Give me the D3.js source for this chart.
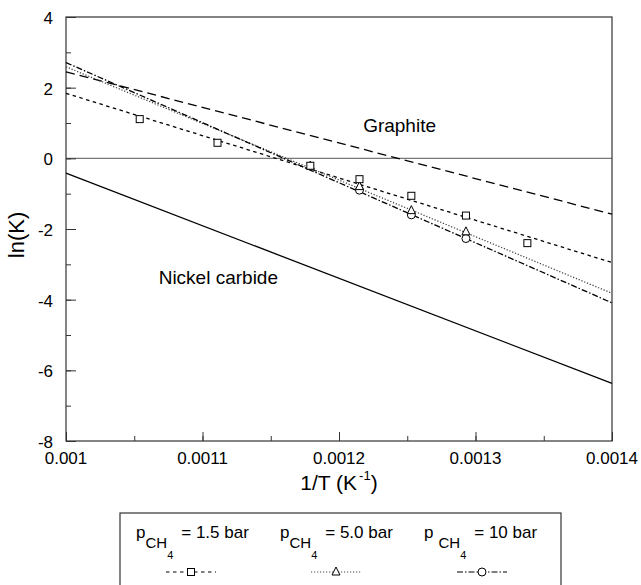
<!DOCTYPE html>
<html>
<head>
<meta charset="utf-8">
<script src="https://cdn.jsdelivr.net/npm/d3@7/dist/d3.min.js"></script>
<style>
body { margin: 0; background: #fff; }
text { font-family: "Liberation Sans", Arial, sans-serif; fill: #000; }
.frame { fill: none; stroke: #333; stroke-width: 1.2px; }
.fit { fill: none; stroke: #000; stroke-width: 1.3px; }
.mark { fill: #fff; stroke: #000; stroke-width: 1px; }
</style>
</head>
<body>
<script>
// reference lines and fits: value at x = 0.001 and x = 0.0014
var xEnds = [0.001, 0.0014];
var graphiteLn = [2.45, -1.58];
var nickelLn = [-0.42, -6.37];
var fit15 = [1.84, -2.95];
var fit50 = [2.59, -3.82];
var fit10 = [2.71, -4.09];

// measured points
var p15x = [0.001054, 0.001111, 0.001179, 0.001215, 0.001253, 0.001293, 0.001338];
var p15y = [1.11, 0.44, -0.21, -0.59, -1.06, -1.62, -2.40];
var p50x = [0.001179, 0.001215, 0.001253, 0.001293];
var p50y = [-0.22, -0.80, -1.48, -2.08];
var p10x = [0.001215, 0.001253, 0.001293];
var p10y = [-0.90, -1.60, -2.27];

var xTicks = [0.001, 0.0011, 0.0012, 0.0013, 0.0014];
var xTickLabels = ["0.001", "0.0011", "0.0012", "0.0013", "0.0014"];
var yTicks = [-8, -6, -4, -2, 0, 2, 4];

var width = 641, height = 585;
var svg = d3.select("body").append("svg")
    .attr("width", width)
    .attr("height", height);

var x = d3.scaleLinear().domain([0.001, 0.0014]).range([66, 612]);
var y = d3.scaleLinear().domain([-8, 4]).range([441, 17]);

// zero line
svg.append("line")
    .attr("x1", x(0.001)).attr("x2", x(0.0014))
    .attr("y1", y(0)).attr("y2", y(0))
    .style("stroke", "#777").style("stroke-width", "1.2px");

// axes: ticks pointing inward
var xMinor = d3.range(0, 9).map(function(i) { return 0.001 + i * 0.00005; });
var yMinor = d3.range(-8, 5);

svg.append("g")
    .attr("transform", "translate(0," + y(-8) + ")")
    .call(d3.axisTop(x).tickValues(xMinor).tickSize(5).tickFormat(""))
    .call(function(g) { g.select(".domain").remove(); });
svg.append("g")
    .attr("transform", "translate(0," + y(-8) + ")")
    .call(d3.axisTop(x).tickValues(xTicks).tickSize(9).tickFormat(""))
    .call(function(g) { g.select(".domain").remove(); });
svg.append("g")
    .attr("transform", "translate(" + x(0.001) + ",0)")
    .call(d3.axisRight(y).tickValues(yMinor).tickSize(5).tickFormat(""))
    .call(function(g) { g.select(".domain").remove(); });
svg.append("g")
    .attr("transform", "translate(" + x(0.001) + ",0)")
    .call(d3.axisRight(y).tickValues(yTicks).tickSize(10).tickFormat(""))
    .call(function(g) { g.select(".domain").remove(); });
svg.selectAll(".tick line").style("stroke", "#333");

svg.selectAll(".xlab").data(xTicks).enter().append("text")
    .attr("x", function(d) { return x(d); })
    .attr("y", y(-8) + 23)
    .attr("text-anchor", "middle")
    .style("font-size", "17px")
    .text(function(d, i) { return xTickLabels[i]; });

svg.selectAll(".ylab").data(yTicks).enter().append("text")
    .attr("x", 53)
    .attr("y", function(d) { return y(d) + 7; })
    .attr("text-anchor", "end")
    .style("font-size", "17px")
    .text(function(d) { return d; });

svg.append("rect").attr("class", "frame")
    .attr("x", x(0.001)).attr("y", y(4))
    .attr("width", x(0.0014) - x(0.001))
    .attr("height", y(-8) - y(4));

// axis titles
var xt = svg.append("text")
    .attr("x", (x(0.001) + x(0.0014)) / 2)
    .attr("y", 490)
    .attr("text-anchor", "middle")
    .style("font-size", "21px");
xt.append("tspan").text("1/T (K");
xt.append("tspan").attr("dy", -10).attr("dx", 2).style("font-size", "13px").text("-1");
xt.append("tspan").attr("dy", 10).text(")");

svg.append("text")
    .attr("transform", "translate(24,235) rotate(-90)")
    .attr("text-anchor", "middle")
    .style("font-size", "22px")
    .text("ln(K)");

// lines
var line = d3.line()
    .x(function(d) { return x(d[0]); })
    .y(function(d) { return y(d[1]); });

function ends(vals) { return xEnds.map(function(v, i) { return [v, vals[i]]; }); }

svg.append("path").attr("class", "fit").attr("d", line(ends(nickelLn)));
svg.append("path").attr("class", "fit").attr("d", line(ends(graphiteLn)))
    .style("stroke-dasharray", "9,5");
svg.append("path").attr("class", "fit").attr("d", line(ends(fit15)))
    .style("stroke-dasharray", "3.5,3.5");
svg.append("path").attr("class", "fit").attr("d", line(ends(fit50)))
    .style("stroke-dasharray", "1.2,1.8").style("stroke", "#444");
svg.append("path").attr("class", "fit").attr("d", line(ends(fit10)))
    .style("stroke-dasharray", "6,2,1.5,2");

// markers
function square(g, px, py) {
    g.append("rect").attr("class", "mark")
        .attr("x", px - 3.5).attr("y", py - 3.5)
        .attr("width", 7).attr("height", 7);
}
function triangle(g, px, py) {
    g.append("path").attr("class", "mark")
        .attr("d", "M" + px + "," + (py - 5) + "L" + (px + 4) + "," + (py + 3) + "L" + (px - 4) + "," + (py + 3) + "Z");
}
function circle(g, px, py) {
    g.append("circle").attr("class", "mark")
        .attr("cx", px).attr("cy", py).attr("r", 4);
}

var mk = svg.append("g");
p10x.forEach(function(v, i) { circle(mk, x(v), y(p10y[i])); });
p50x.forEach(function(v, i) { triangle(mk, x(v), y(p50y[i])); });
p15x.forEach(function(v, i) { square(mk, x(v), y(p15y[i])); });

// labels
svg.append("text").attr("x", 436).attr("y", 132)
    .attr("text-anchor", "end").style("font-size", "19px").text("Graphite");
svg.append("text").attr("x", 278).attr("y", 284)
    .attr("text-anchor", "end").style("font-size", "19px").text("Nickel carbide");

// legend
var legendLabels = ["= 1.5 bar", "= 5.0 bar", "= 10 bar"];
var legendX = [136, 280, 424];
var legendSym = [191, 336, 482];
var legendDash = ["3.5,3.5", "1.2,1.8", "6,2,1.5,2"];
var legendMark = [square, triangle, circle];

svg.append("rect")
    .attr("x", 120).attr("y", 513)
    .attr("width", 441).attr("height", 90)
    .style("fill", "none").style("stroke", "#333").style("stroke-width", "1.2px");

legendLabels.forEach(function(lab, i) {
    var t = svg.append("text").attr("x", legendX[i]).attr("y", 538)
        .style("font-size", "17px");
    t.append("tspan").text("p");
    t.append("tspan").attr("dy", 10).attr("dx", i == 2 ? 5 : 0)
        .style("font-size", "15px").text("CH");
    t.append("tspan").attr("dy", 11).style("font-size", "11px").text("4");
    t.append("tspan").attr("dy", -21).attr("dx", 8).text(lab);

    var cx = legendSym[i];
    svg.append("line")
        .attr("x1", cx - 25).attr("x2", cx + 25)
        .attr("y1", 572).attr("y2", 572)
        .style("stroke", i == 1 ? "#444" : "#000").style("stroke-width", "1px")
        .style("stroke-dasharray", legendDash[i]);
    legendMark[i](svg, cx, 572);
});
</script>
</body>
</html>
